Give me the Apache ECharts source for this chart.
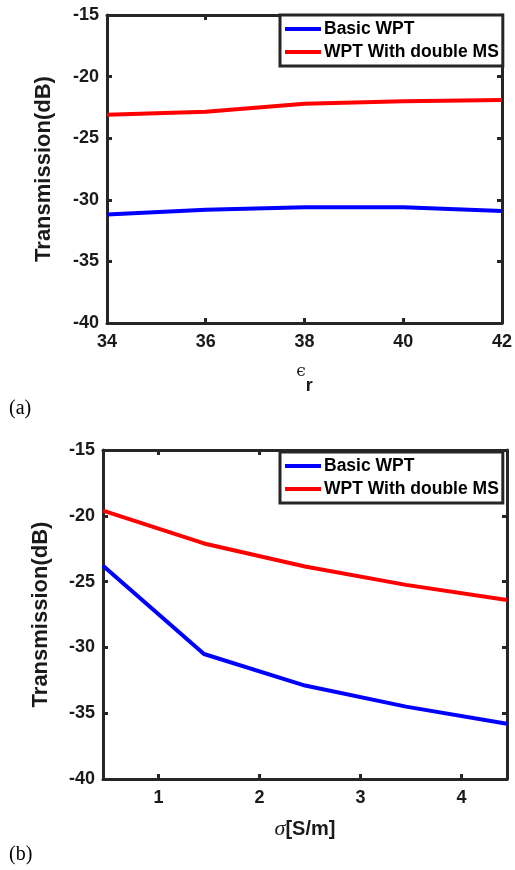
<!DOCTYPE html>
<html>
<head>
<meta charset="utf-8">
<script src="https://cdn.jsdelivr.net/npm/echarts@6/dist/echarts.min.js"></script>
<style>
  html, body { margin: 0; padding: 0; background: #fff; }
  #main { width: 515px; height: 870px; }
</style>
</head>
<body>
<div id="main"></div>
<script>
// (a) transmission vs relative permittivity
const epsR = [34, 36, 38, 40, 42];
const basicA = [-31.2, -30.8, -30.6, -30.6, -30.9];
const doubleA = [-23.1, -22.85, -22.2, -22.0, -21.9];

// (b) transmission vs conductivity
const sigma = [0.45, 1.45, 2.45, 3.45, 4.45];
const basicB = [-23.8, -30.5, -32.9, -34.5, -35.8];
const doubleB = [-19.6, -22.1, -23.85, -25.25, -26.4];

const sigmaTicks = [1, 2, 3, 4];
const names = ['Basic WPT', 'WPT With double MS'];

const axisColor = '#262626';
const font = 'Liberation Sans, Arial, sans-serif';

function pairs(xs, ys) {
  let out = [];
  for (let i = 0; i < xs.length; i++) {
    out.push([xs[i], ys[i]]);
  }
  return out;
}

const lineAxis = { show: true, onZero: false, lineStyle: { color: axisColor, width: 3 } };
const tickIn = { show: true, inside: true, length: 5, lineStyle: { color: axisColor, width: 3 } };
const labelStyle = { color: '#1a1a1a', fontFamily: font, fontWeight: 'bold', fontSize: 18 };

function legendAt(top) {
  return {
    data: names,
    orient: 'vertical',
    left: 280,
    top: top,
    padding: [5, 4, 5, 5],
    itemGap: 5,
    itemWidth: 36,
    itemHeight: 4,
    icon: 'rect',
    borderColor: axisColor,
    borderWidth: 3,
    borderRadius: 0,
    backgroundColor: '#fff',
    textStyle: { color: '#000', fontFamily: font, fontWeight: 'bold', fontSize: 17.5, padding: [0, 0, 0, -2] }
  };
}

const option = {
  animation: false,
  backgroundColor: '#fff',
  title: [
    { text: '(a)', left: 4, top: 394, textStyle: { fontFamily: 'Liberation Serif, Times New Roman, serif', fontWeight: 'normal', fontSize: 20, color: '#000' } },
    { text: '(b)', left: 4, top: 840, textStyle: { fontFamily: 'Liberation Serif, Times New Roman, serif', fontWeight: 'normal', fontSize: 20, color: '#000' } }
  ],
  legend: [legendAt(15), legendAt(452)],
  grid: [
    { left: 107, top: 15, width: 398, height: 308 },
    { left: 103, top: 450, width: 404, height: 329 }
  ],
  xAxis: [
    {
      gridIndex: 0, type: 'value', min: 34, max: 42, interval: 2,
      axisLine: lineAxis, axisTick: tickIn, splitLine: { show: false },
      axisLabel: Object.assign({ margin: 10 }, labelStyle),
      name: '{e|ϵ}{r|r}', nameLocation: 'middle', nameGap: 40,
      nameTextStyle: {
        rich: {
          e: { fontFamily: 'DejaVu Serif, serif', fontSize: 17, color: '#1a1a1a', verticalAlign: 'top' },
          r: { fontFamily: font, fontWeight: 'bold', fontSize: 18, color: '#1a1a1a', padding: [14, 0, 0, 0] }
        }
      }
    },
    {
      gridIndex: 0, type: 'value', position: 'top', min: 34, max: 42, interval: 2,
      axisLine: lineAxis, axisTick: tickIn, axisLabel: { show: false }, splitLine: { show: false }
    },
    {
      gridIndex: 1, type: 'value', min: 0.45, max: 4.45,
      axisLine: lineAxis,
      axisTick: Object.assign({ customValues: sigmaTicks }, tickIn),
      axisLabel: Object.assign({ margin: 10, customValues: sigmaTicks }, labelStyle),
      splitLine: { show: false },
      name: '{s|σ}{u|[S/m]}', nameLocation: 'middle', nameGap: 39,
      nameTextStyle: {
        rich: {
          s: { fontFamily: 'Liberation Serif, serif', fontStyle: 'italic', fontSize: 22, color: '#1a1a1a' },
          u: { fontFamily: font, fontWeight: 'bold', fontSize: 20, color: '#1a1a1a' }
        }
      }
    },
    {
      gridIndex: 1, type: 'value', position: 'top', min: 0.45, max: 4.45,
      axisLine: lineAxis, axisTick: Object.assign({ customValues: sigmaTicks }, tickIn),
      axisLabel: { show: false, customValues: sigmaTicks }, splitLine: { show: false }
    }
  ],
  yAxis: [
    {
      gridIndex: 0, type: 'value', min: -40, max: -15, interval: 5,
      axisLine: lineAxis, axisTick: tickIn, splitLine: { show: false },
      axisLabel: Object.assign({ margin: 8 }, labelStyle),
      name: 'Transmission(dB)', nameLocation: 'middle', nameGap: 52,
      nameTextStyle: { color: '#1a1a1a', fontFamily: font, fontWeight: 'bold', fontSize: 22 }
    },
    {
      gridIndex: 0, type: 'value', position: 'right', min: -40, max: -15, interval: 5,
      axisLine: lineAxis, axisTick: tickIn, axisLabel: { show: false }, splitLine: { show: false }
    },
    {
      gridIndex: 1, type: 'value', min: -40, max: -15, interval: 5,
      axisLine: lineAxis, axisTick: tickIn, splitLine: { show: false },
      axisLabel: Object.assign({ margin: 8 }, labelStyle),
      name: 'Transmission(dB)', nameLocation: 'middle', nameGap: 51,
      nameTextStyle: { color: '#1a1a1a', fontFamily: font, fontWeight: 'bold', fontSize: 22 }
    },
    {
      gridIndex: 1, type: 'value', position: 'right', min: -40, max: -15, interval: 5,
      axisLine: lineAxis, axisTick: tickIn, axisLabel: { show: false }, splitLine: { show: false }
    }
  ],
  series: [
    { name: names[0], type: 'line', xAxisIndex: 0, yAxisIndex: 0, data: pairs(epsR, basicA), showSymbol: false, color: '#0000ff', lineStyle: { width: 4 } },
    { name: names[1], type: 'line', xAxisIndex: 0, yAxisIndex: 0, data: pairs(epsR, doubleA), showSymbol: false, color: '#ff0000', lineStyle: { width: 4 } },
    { name: names[0], type: 'line', xAxisIndex: 2, yAxisIndex: 2, data: pairs(sigma, basicB), showSymbol: false, color: '#0000ff', lineStyle: { width: 4 } },
    { name: names[1], type: 'line', xAxisIndex: 2, yAxisIndex: 2, data: pairs(sigma, doubleB), showSymbol: false, color: '#ff0000', lineStyle: { width: 4 } }
  ]
};

let myChart = echarts.init(document.getElementById('main'));
option && myChart.setOption(option);
</script>
</body>
</html>
